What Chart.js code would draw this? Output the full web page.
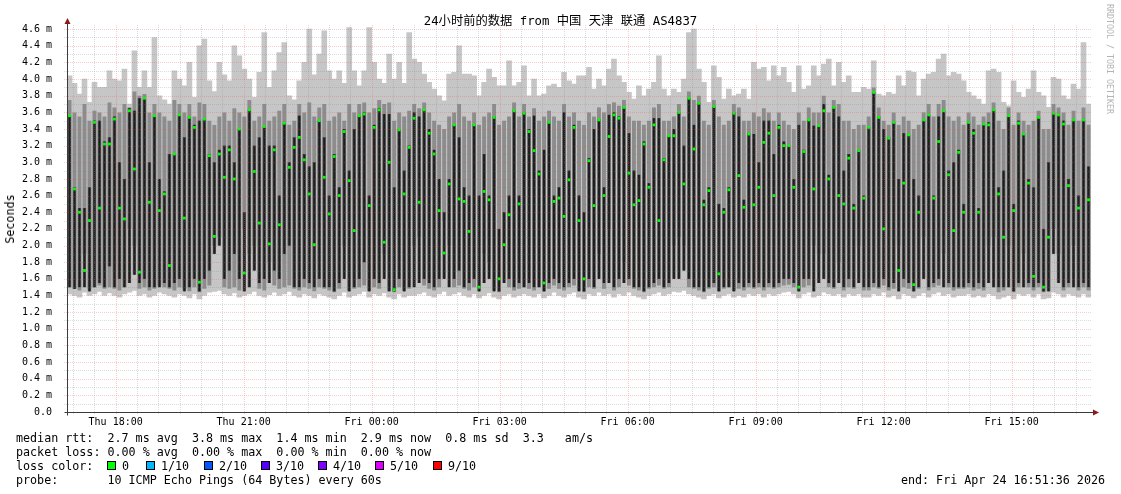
<!DOCTYPE html>
<html>
<head>
<meta charset="utf-8">
<script src="https://cdn.jsdelivr.net/npm/chart.js@4.4.1/dist/chart.umd.min.js"></script>
<style>
  body { margin: 0; width: 1121px; height: 494px; position: relative; background: #fff; overflow: hidden; }
  #wrap { position: absolute; left: 0; top: 0; width: 1121px; height: 494px; }
  .mono { font-family: 'DejaVu Sans Mono', monospace; color: #000; position: absolute; white-space: pre; }
  .leg { font-size: 11.7px; line-height: 14px; left: 16px; }
  .box { position: absolute; width: 7px; height: 7px; border: 1px solid #000; }
</style>
</head>
<body>
<div id="wrap"><canvas id="myChart" width="1121" height="494"></canvas></div>

<div class="mono" id="title" style="left:0;width:1121px;top:13px;text-align:center;font-size:12.3px;line-height:16px;font-family:'DejaVu Sans Mono','Noto Sans CJK SC',monospace;">24小时前的数据 from 中国 天津 联通 AS4837</div>
<div class="mono" style="left:10px;top:219px;font-size:11.7px;transform:translate(-50%,-50%) rotate(-90deg);">Seconds</div>
<div class="mono" style="left:1105px;top:4px;font-size:8.3px;color:#b4b4b4;writing-mode:vertical-rl;">RRDTOOL / TOBI OETIKER</div>

<div class="mono leg" style="top:431px;">median rtt:  2.7 ms avg  3.8 ms max  1.4 ms min  2.9 ms now  0.8 ms sd  3.3   am/s</div>
<div class="mono leg" style="top:445px;">packet loss: 0.00 % avg  0.00 % max  0.00 % min  0.00 % now</div>
<div class="mono leg" style="top:459px;">loss color:</div>
<div id="lossRow"></div>
<div class="mono leg" style="top:473px;">probe:       10 ICMP Echo Pings (64 Bytes) every 60s</div>
<div class="mono" style="top:473px;right:16px;font-size:11.7px;line-height:14px;">end: Fri Apr 24 16:51:36 2026</div>

<script>
// time span of the graph, hours since Thu 00:00
const startHour = 16.86;
const endHour = 40.86;

const tickHours = [18, 21, 24, 27, 30, 33, 36, 39];
const tickLabels = ['Thu 18:00', 'Thu 21:00', 'Fri 00:00', 'Fri 03:00', 'Fri 06:00', 'Fri 09:00', 'Fri 12:00', 'Fri 15:00'];
const yTicks = [0, 0.2, 0.4, 0.6, 0.8, 1.0, 1.2, 1.4, 1.6, 1.8, 2.0, 2.2, 2.4, 2.6, 2.8, 3.0, 3.2, 3.4, 3.6, 3.8, 4.0, 4.2, 4.4, 4.6];

const lossLabels = ['0', '1/10', '2/10', '3/10', '4/10', '5/10', '9/10'];
const lossColors = ['#00ff00', '#00b8ff', '#0059ff', '#5500ff', '#7e00ff', '#dd00ff', '#ff0000'];

// smoke (ms), one value per ~7 minute column
const smokeMax = [
  4.04,3.95,3.82,4.0,3.72,3.96,3.9,3.9,4.1,4.0,3.98,4.12,3.7,4.34,3.9,4.1,3.9,4.5,3.8,3.75,3.7,4.1,4.0,
  3.92,4.2,3.78,4.4,4.48,3.98,3.85,4.2,4.05,3.98,4.4,4.28,4.12,4.0,3.78,4.08,4.56,3.9,4.1,4.32,4.44,3.8,3.75,
  3.98,4.2,4.6,4.05,4.3,4.58,4.1,4.0,4.1,3.95,4.62,4.1,3.92,4.1,4.62,4.2,4.0,3.95,4.3,4.0,4.2,3.95,4.56,
  4.24,4.2,4.06,3.96,3.88,3.8,3.74,4.06,4.08,4.4,4.06,4.06,4.04,3.8,3.96,4.12,4.02,3.92,3.92,4.22,3.92,3.96,4.16,
  3.8,4.0,3.8,3.82,3.92,3.94,3.9,4.08,3.98,3.94,4.04,4.04,4.14,3.88,4.0,3.92,4.12,4.24,4.04,3.96,3.84,3.76,
  3.92,3.8,3.88,3.96,4.28,3.88,3.8,3.88,3.84,4.0,4.56,4.6,4.12,3.96,3.72,4.16,4.02,3.76,3.88,3.8,3.82,3.88,3.76,
  4.2,4.12,4.14,3.98,4.16,4.04,4.14,3.96,3.84,4.16,3.88,3.92,4.16,4.04,4.18,4.24,3.92,4.2,3.96,4.04,3.84,3.84,3.9,
  3.88,4.22,3.82,3.8,3.84,3.82,4.04,3.92,4.1,4.08,3.8,4.0,4.06,4.08,4.24,4.3,4.04,4.08,4.06,3.98,3.84,3.8,3.76,
  3.7,4.1,4.12,4.08,3.72,3.68,3.98,3.84,3.78,3.88,4.1,3.84,3.8,3.66,4.02,4.0,3.8,3.76,3.94,3.88,4.44,3.7
];
const midTop = [
  3.75,3.6,3.55,3.7,3.5,3.62,3.6,3.55,3.72,3.66,3.6,3.7,3.66,3.85,3.8,3.82,3.6,3.7,3.6,3.55,3.5,3.75,3.7,
  3.6,3.7,3.55,3.72,3.7,3.5,3.45,3.55,3.6,3.5,3.65,3.6,3.55,3.75,3.5,3.55,3.7,3.5,3.55,3.62,3.7,3.45,3.5,
  3.7,3.6,3.72,3.55,3.66,3.7,3.5,3.55,3.6,3.5,3.7,3.6,3.7,3.72,3.6,3.65,3.75,3.7,3.72,3.5,3.6,3.55,3.62,
  3.7,3.65,3.72,3.6,3.5,3.45,3.4,3.55,3.6,3.7,3.55,3.5,3.6,3.45,3.55,3.6,3.7,3.45,3.5,3.55,3.72,3.55,3.7,
  3.55,3.65,3.5,3.55,3.62,3.55,3.5,3.7,3.55,3.6,3.5,3.45,3.6,3.55,3.66,3.6,3.7,3.72,3.68,3.75,3.55,3.5,
  3.5,3.45,3.5,3.66,3.7,3.5,3.5,3.55,3.7,3.55,3.85,3.75,3.8,3.5,3.45,3.75,3.55,3.45,3.5,3.7,3.66,3.5,3.5,
  3.6,3.55,3.65,3.6,3.5,3.6,3.5,3.45,3.4,3.6,3.5,3.66,3.6,3.6,3.8,3.6,3.75,3.7,3.5,3.5,3.4,3.45,3.45,
  3.55,3.9,3.66,3.5,3.45,3.6,3.45,3.55,3.5,3.4,3.45,3.6,3.7,3.55,3.7,3.75,3.55,3.5,3.55,3.45,3.6,3.55,3.45,
  3.55,3.6,3.72,3.5,3.4,3.66,3.45,3.6,3.5,3.45,3.5,3.62,3.4,3.4,3.7,3.66,3.6,3.45,3.62,3.5,3.66,3.45
];
const midLo = [
  1.5,1.48,1.46,1.9,1.48,1.5,1.52,1.48,1.5,1.48,1.46,1.5,2.2,2.0,1.48,1.5,1.46,1.48,1.52,1.5,1.48,1.46,1.5,
  1.48,1.45,1.5,1.44,1.48,1.52,2.0,2.1,1.5,1.48,1.5,1.46,2.2,1.9,2.0,1.48,1.46,1.8,1.52,1.48,1.5,1.52,1.48,
  1.46,1.5,1.48,1.45,1.5,1.48,1.46,1.44,1.48,2.0,1.46,1.48,1.5,1.52,1.46,1.5,1.48,1.9,1.46,1.44,1.5,1.46,1.48,
  2.0,2.1,1.52,1.48,1.46,1.5,2.3,2.0,1.5,1.52,1.48,1.46,1.5,1.45,1.9,1.8,1.46,1.44,2.0,1.5,1.46,1.48,1.5,
  1.48,1.46,1.5,1.45,1.48,1.52,1.48,1.46,1.5,1.52,1.46,1.44,1.5,1.48,1.9,1.48,2.2,1.46,1.5,1.8,1.52,1.48,
  1.46,1.44,1.48,1.5,1.52,1.48,1.5,2.0,2.1,2.0,1.5,1.48,1.46,1.44,1.48,1.5,1.45,1.48,1.5,1.46,1.48,1.46,1.5,
  1.48,1.5,1.46,1.5,1.48,1.5,1.52,1.53,1.5,1.45,1.5,1.52,2.0,1.9,1.9,1.5,1.48,1.8,1.46,1.5,1.48,2.0,1.46,
  1.46,1.5,1.48,1.52,1.46,1.48,2.0,1.5,1.48,1.45,1.48,2.1,1.46,1.5,1.52,1.9,1.5,1.46,1.48,1.48,1.5,1.46,1.48,
  1.46,2.0,2.1,1.44,1.46,2.0,1.44,1.5,1.9,1.5,1.46,1.5,1.44,1.45,2.2,1.9,1.46,1.5,2.0,1.46,1.5,1.46
];
const smokeMin = [
  1.42,1.4,1.38,1.44,1.4,1.42,1.45,1.4,1.43,1.4,1.38,1.42,1.44,1.46,1.4,1.42,1.38,1.4,1.44,1.42,1.4,1.38,1.42,
  1.4,1.37,1.42,1.36,1.4,1.44,1.45,1.46,1.42,1.4,1.43,1.38,1.4,1.42,1.45,1.4,1.38,1.41,1.44,1.4,1.42,1.45,1.4,
  1.38,1.42,1.4,1.37,1.42,1.4,1.38,1.36,1.4,1.44,1.38,1.4,1.42,1.45,1.38,1.42,1.4,1.43,1.38,1.36,1.42,1.38,1.4,
  1.4,1.42,1.44,1.4,1.38,1.42,1.45,1.4,1.42,1.44,1.4,1.38,1.42,1.37,1.4,1.43,1.38,1.36,1.4,1.42,1.38,1.4,1.42,
  1.4,1.38,1.42,1.37,1.4,1.44,1.4,1.38,1.42,1.44,1.38,1.36,1.42,1.4,1.44,1.4,1.42,1.38,1.42,1.4,1.44,1.4,
  1.38,1.36,1.4,1.42,1.44,1.4,1.42,1.45,1.44,1.46,1.42,1.4,1.38,1.36,1.4,1.42,1.37,1.4,1.42,1.38,1.4,1.38,1.42,
  1.4,1.42,1.38,1.42,1.4,1.42,1.44,1.45,1.42,1.37,1.42,1.44,1.38,1.4,1.44,1.42,1.4,1.42,1.38,1.42,1.4,1.42,1.38,
  1.38,1.42,1.4,1.44,1.38,1.4,1.36,1.42,1.4,1.37,1.4,1.43,1.38,1.42,1.44,1.4,1.42,1.38,1.4,1.4,1.42,1.38,1.4,
  1.38,1.42,1.4,1.36,1.38,1.4,1.36,1.42,1.4,1.42,1.38,1.42,1.36,1.37,1.44,1.42,1.38,1.42,1.4,1.38,1.42,1.38
];
// densest part of the smoke around the median
const darkLo = [
  1.5,1.48,1.5,1.5,1.45,1.5,1.55,1.5,1.75,1.5,1.6,1.5,1.55,1.65,1.55,1.6,1.5,1.5,1.5,1.55,1.5,1.55,1.6,
  1.45,1.5,1.6,1.45,1.6,1.7,1.9,2.0,1.6,1.7,1.9,1.6,1.45,1.5,1.7,1.55,1.6,1.55,1.7,1.6,1.9,2.0,1.5,
  1.5,1.6,1.55,1.5,1.6,1.5,1.5,1.45,1.55,1.6,1.45,1.5,1.6,1.8,1.45,1.6,1.55,1.6,1.45,1.45,1.6,1.45,1.5,
  1.5,1.55,1.6,1.55,1.5,1.6,1.6,1.5,1.6,1.7,1.5,1.55,1.6,1.45,1.55,1.6,1.45,1.45,1.55,1.6,1.5,1.55,1.5,
  1.55,1.5,1.5,1.45,1.55,1.6,1.55,1.5,1.55,1.6,1.45,1.45,1.6,1.5,1.6,1.55,1.55,1.5,1.6,1.55,1.6,1.5,
  1.5,1.45,1.5,1.55,1.6,1.5,1.55,1.6,1.6,1.7,1.6,1.5,1.5,1.45,1.5,1.55,1.45,1.5,1.5,1.45,1.55,1.5,1.55,
  1.5,1.55,1.5,1.55,1.5,1.55,1.6,1.6,1.55,1.45,1.6,1.6,1.45,1.55,1.6,1.55,1.5,1.55,1.5,1.6,1.5,1.55,1.5,
  1.5,1.55,1.5,1.6,1.5,1.55,1.45,1.6,1.55,1.45,1.5,1.6,1.5,1.55,1.6,1.5,1.55,1.5,1.5,1.5,1.55,1.5,1.55,
  1.5,1.55,1.5,1.5,1.5,1.5,1.45,1.55,1.5,1.55,1.5,1.55,1.45,1.45,1.9,1.55,1.5,1.55,1.5,1.5,1.55,1.5
];
const darkHi = [
  3.56,2.7,2.45,2.45,2.7,3.5,3.5,3.25,3.3,3.55,3.0,2.8,3.65,3.62,3.77,3.77,3.0,3.56,2.8,2.65,3.1,3.1,3.57,
  3.3,3.55,3.45,3.5,3.52,3.1,3.0,3.15,3.2,3.2,3.0,3.4,2.4,3.63,3.2,3.3,3.43,3.2,3.2,2.6,3.47,3.0,3.3,
  3.56,3.1,2.95,3.0,3.5,3.3,2.6,3.1,2.7,3.4,2.9,3.4,3.56,3.6,2.6,3.45,3.65,3.58,3.58,2.7,3.4,2.9,3.2,
  3.6,3.55,3.63,3.4,3.15,2.8,2.4,2.8,3.45,3.3,2.7,2.6,3.45,2.6,3.1,2.6,3.55,2.2,2.4,2.6,3.62,2.6,3.6,
  3.4,3.56,2.9,3.15,3.48,2.6,2.7,3.6,2.9,3.45,2.6,2.4,3.05,3.4,3.52,2.7,3.57,3.6,3.55,3.66,3.35,2.9,
  2.85,3.25,2.75,3.53,3.53,3.05,3.32,3.4,3.6,3.2,3.77,3.45,3.71,2.55,2.7,3.67,2.5,2.45,2.7,3.6,3.55,2.55,3.35,
  3.34,3.0,3.5,3.5,3.1,3.45,3.25,3.2,2.8,3.45,3.15,3.51,3.44,3.44,3.7,2.85,3.66,3.55,2.9,3.1,2.5,3.15,2.6,
  3.42,3.84,3.55,3.4,3.3,3.48,2.8,3.35,3.33,2.8,2.6,3.51,3.57,2.6,3.55,3.62,2.9,3.0,3.15,2.5,3.48,3.4,2.45,
  3.46,3.48,3.63,2.7,2.9,3.56,2.5,3.5,3.35,2.8,2.7,3.54,2.2,3.0,3.6,3.57,3.5,2.8,3.51,2.6,3.51,2.95
];
// median rtt (green = 0 loss)
const median = [
  3.56,2.68,2.4,1.7,2.3,3.48,2.45,3.22,3.22,3.52,2.45,2.32,3.62,2.92,1.68,3.77,2.52,3.56,2.42,2.62,1.76,3.1,3.57,
  2.33,3.54,3.42,1.56,3.52,3.08,2.11,3.1,2.82,3.15,2.8,3.4,1.67,3.63,2.89,2.27,3.43,2.02,3.15,2.25,3.47,2.94,3.18,
  3.3,3.03,2.62,2.01,3.5,2.82,2.38,3.07,2.6,3.37,2.78,2.18,3.56,3.58,2.48,3.42,3.63,2.04,3.0,1.47,3.39,2.62,3.18,
  3.53,2.52,3.63,3.35,3.1,2.42,1.91,2.74,3.45,2.56,2.53,2.17,3.45,1.5,2.65,2.55,3.54,1.6,2.01,2.37,3.62,2.5,3.59,
  3.37,3.14,2.86,1.55,3.48,2.53,2.57,2.35,2.79,3.42,2.3,1.6,3.02,2.48,3.51,2.6,3.31,3.57,3.53,3.66,2.87,2.49,
  2.54,3.22,2.7,3.45,2.3,3.03,3.32,3.32,3.6,2.74,3.77,3.16,3.71,2.49,2.66,3.67,1.66,2.4,2.67,3.59,2.84,2.46,3.34,
  2.49,2.7,3.24,3.35,2.6,3.42,3.2,3.2,2.7,1.5,3.13,3.51,2.68,3.44,3.62,2.8,3.66,2.6,2.5,3.05,2.45,3.14,2.57,
  3.42,3.84,3.54,2.2,3.29,3.48,1.7,2.75,3.33,1.53,2.4,3.51,3.57,2.57,3.25,3.62,2.85,2.18,3.12,2.4,3.48,3.35,2.4,
  3.46,3.45,3.63,2.62,2.1,3.56,2.42,3.47,3.34,2.75,1.63,3.54,1.5,2.1,3.59,3.57,3.46,2.72,3.51,2.45,3.51,2.55
];

// timestamp of each column
const colHours = [];
for (let i = 0; i < median.length; i++) {
  colHours.push(startHour + (i + 0.5) * (endHour - startHour) / median.length);
}

function range(lo, hi) {
  return colHours.map((t, i) => ({ x: t, y: [lo[i], hi[i]] }));
}

// loss colour legend boxes
const boxLeft = [107, 146, 204, 261, 318, 375, 433];
const row = document.getElementById('lossRow');
lossLabels.forEach((lab, i) => {
  const b = document.createElement('div');
  b.className = 'box';
  b.style.left = boxLeft[i] + 'px';
  b.style.top = '461px';
  b.style.background = lossColors[i];
  row.appendChild(b);
  const t = document.createElement('div');
  t.className = 'mono leg';
  t.style.left = (boxLeft[i] + 15) + 'px';
  t.style.top = '459px';
  t.textContent = lab;
  row.appendChild(t);
});

const rrdGrid = {
  id: 'rrdGrid',
  afterDatasetsDraw(chart) {
    const ctx = chart.ctx;
    const xs = chart.scales.x, ys = chart.scales.y;
    const a = chart.chartArea;
    ctx.save();
    ctx.lineWidth = 1;
    ctx.setLineDash([1, 1]);
    for (let k = 1; k <= 46; k++) {
      const y = Math.round(ys.getPixelForValue(k / 10)) + 0.5;
      ctx.strokeStyle = k % 2 === 0 ? 'rgba(235,90,90,0.3)' : 'rgba(130,130,130,0.28)';
      ctx.beginPath();
      ctx.moveTo(a.left - 3, y);
      ctx.lineTo(a.right, y);
      ctx.stroke();
    }
    for (let h = 17; h <= 40.5; h += 0.5) {
      const x = Math.round(xs.getPixelForValue(h)) + 0.5;
      ctx.strokeStyle = h % 3 === 0 ? 'rgba(235,90,90,0.3)' : 'rgba(130,130,130,0.28)';
      ctx.beginPath();
      ctx.moveTo(x, a.top);
      ctx.lineTo(x, a.bottom + 3);
      ctx.stroke();
    }
    ctx.restore();
  },
  afterDraw(chart) {
    const ctx = chart.ctx;
    const a = chart.chartArea;
    const x0 = Math.round(a.left) + 0.5, y0 = Math.round(a.bottom) + 0.5;
    ctx.save();
    ctx.strokeStyle = '#3c3c3c';
    ctx.lineWidth = 1;
    ctx.beginPath();
    ctx.moveTo(x0, y0 + 3);
    ctx.lineTo(x0, a.top - 2);
    ctx.moveTo(x0 - 3, y0);
    ctx.lineTo(a.right + 3, y0);
    ctx.stroke();
    ctx.fillStyle = '#8b1a1a';
    ctx.beginPath();
    ctx.moveTo(x0 - 3, a.top - 1);
    ctx.lineTo(x0 + 3, a.top - 1);
    ctx.lineTo(x0, a.top - 7);
    ctx.closePath();
    ctx.fill();
    ctx.beginPath();
    ctx.moveTo(a.right + 2, y0 - 3);
    ctx.lineTo(a.right + 2, y0 + 3);
    ctx.lineTo(a.right + 8, y0);
    ctx.closePath();
    ctx.fill();
    ctx.restore();
  }
};

const ctx = document.getElementById('myChart');
const tickFont = { family: 'DejaVu Sans Mono', size: 10 };

new Chart(ctx, {
  type: 'bar',
  data: {
    datasets: [
      { type: 'line', data: colHours.map((t, i) => ({ x: t, y: median[i] })), showLine: false,
        pointStyle: 'rect', pointRadius: 2, pointBackgroundColor: '#00ff00', pointBorderWidth: 0, order: 1 },
      { data: range(darkLo, darkHi), backgroundColor: '#1e1e1e', barPercentage: 0.4, categoryPercentage: 1, grouped: false, order: 2 },
      { data: range(darkLo, darkHi), backgroundColor: '#5a5a5a', barPercentage: 0.66, categoryPercentage: 1, grouped: false, order: 3 },
      { data: range(midLo, midTop), backgroundColor: '#8c8c8c', barPercentage: 0.78, categoryPercentage: 1, grouped: false, order: 4 },
      { data: range(smokeMin, smokeMax), backgroundColor: '#c6c6c6', barPercentage: 1, categoryPercentage: 1, grouped: false, order: 5 }
    ]
  },
  options: {
    responsive: false,
    animation: false,
    devicePixelRatio: 1,
    events: [],
    layout: { padding: { left: 0, top: 25, right: 30, bottom: 62 } },
    plugins: { legend: { display: false }, tooltip: { enabled: false } },
    scales: {
      x: {
        type: 'linear',
        min: startHour,
        max: endHour,
        offset: false,
        grid: { display: false },
        border: { display: false },
        afterBuildTicks: (s) => { s.ticks = tickHours.map(v => ({ value: v })); },
        afterFit: (s) => { s.height = 20; },
        ticks: {
          font: tickFont, color: '#000', padding: -4, maxRotation: 0, autoSkip: false,
          callback: (v) => tickLabels[tickHours.indexOf(v)]
        }
      },
      y: {
        min: 0,
        max: 4.65,
        grid: { display: false },
        border: { display: false },
        afterBuildTicks: (s) => { s.ticks = yTicks.map(v => ({ value: v })); },
        afterFit: (s) => { s.width = 67; },
        ticks: {
          font: tickFont, color: '#000', padding: 7,
          callback: (v) => v === 0 ? '0.0' : v.toFixed(1) + ' m'
        }
      }
    }
  },
  plugins: [rrdGrid]
});
</script>
</body>
</html>
